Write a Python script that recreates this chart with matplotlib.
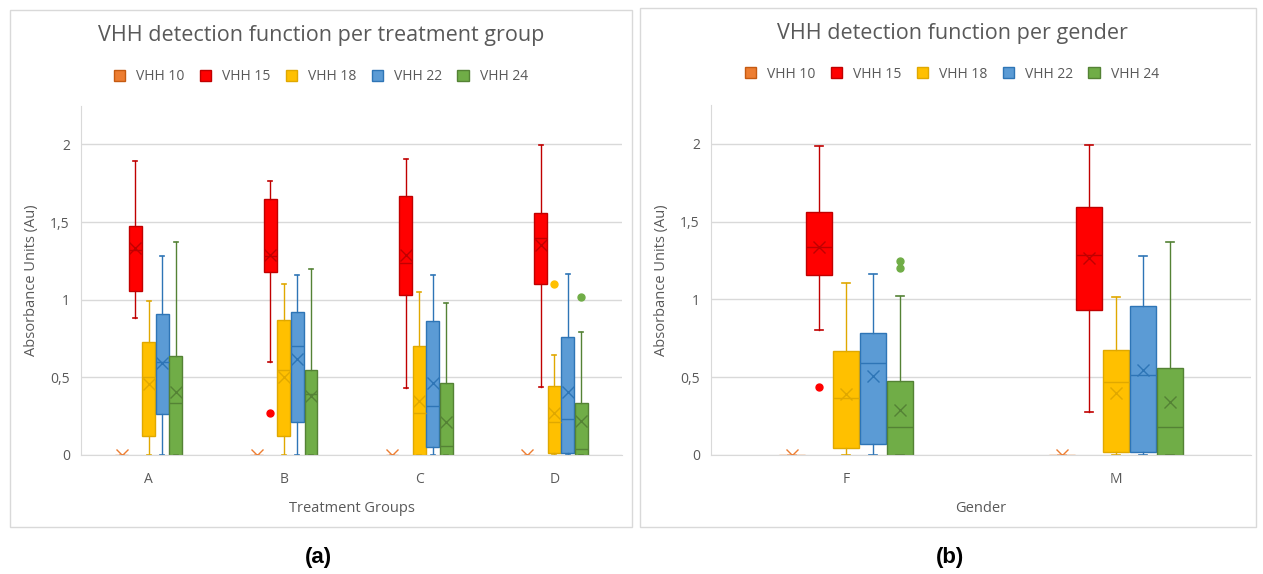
import matplotlib
matplotlib.use("Agg")
import matplotlib.pyplot as plt
from matplotlib.patches import Rectangle, Patch
from matplotlib.ticker import FuncFormatter

plt.rcParams["font.family"] = ["Open Sans", "DejaVu Sans"]

# ---- data ----
series = ["VHH 10", "VHH 15", "VHH 18", "VHH 22", "VHH 24"]
fill_cols = ["#ED7D31", "#FF0000", "#FFC000", "#5B9BD5", "#70AD47"]
edge_cols = ["#F4B183", "#C00000", "#E0A800", "#2E75B6", "#548235"]

groups_a = ["A", "B", "C", "D"]
# per series: lists over groups A..D
a_whislo = [[0, 0, 0, 0], [0.88, 0.60, 0.43, 0.44], [0, 0, 0, 0], [0, 0, 0, 0], [0, 0, 0, 0]]
a_q1 = [[0, 0, 0, 0], [1.055, 1.18, 1.03, 1.10], [0.12, 0.125, 0.0, 0.015],
        [0.265, 0.21, 0.05, 0.01], [0, 0, 0, 0]]
a_med = [[0, 0, 0, 0], [1.32, 1.28, 1.235, 1.40], [0.505, 0.545, 0.27, 0.21],
         [0.60, 0.70, 0.315, 0.23], [0.335, 0.39, 0.055, 0.04]]
a_q3 = [[0, 0, 0, 0], [1.475, 1.65, 1.67, 1.555], [0.725, 0.87, 0.70, 0.445],
        [0.905, 0.92, 0.86, 0.76], [0.64, 0.545, 0.465, 0.335]]
a_whishi = [[0, 0, 0, 0], [1.89, 1.765, 1.905, 1.995], [0.99, 1.10, 1.05, 0.645],
            [1.28, 1.16, 1.16, 1.165], [1.37, 1.20, 0.98, 0.79]]
a_mean = [[0, 0, 0, 0], [1.33, 1.29, 1.29, 1.355], [0.46, 0.505, 0.35, 0.27],
          [0.59, 0.615, 0.465, 0.405], [0.405, 0.38, 0.215, 0.22]]
a_fliers = [[[], [], [], []], [[], [0.27], [], []], [[], [], [], [1.10]],
            [[], [], [], []], [[], [], [], [1.02]]]

groups_b = ["F", "M"]
b_whislo = [[0, 0], [0.805, 0.275], [0, 0], [0, 0], [0, 0]]
b_q1 = [[0, 0], [1.16, 0.935], [0.047, 0.02], [0.068, 0.022], [0, 0]]
b_med = [[0, 0], [1.34, 1.285], [0.365, 0.47], [0.59, 0.515], [0.177, 0.18]]
b_q3 = [[0, 0], [1.56, 1.595], [0.67, 0.675], [0.785, 0.96], [0.475, 0.56]]
b_whishi = [[0, 0], [1.985, 1.99], [1.105, 1.015], [1.165, 1.28], [1.02, 1.37]]
b_mean = [[0, 0], [1.34, 1.265], [0.395, 0.40], [0.505, 0.545], [0.29, 0.34]]
b_fliers = [[[], []], [[0.435], []], [[], []], [[], []], [[1.25, 1.20], []]]

GRID = "#D9D9D9"; TXT = "#595959"
W, H = 1263, 574
fig = plt.figure(figsize=(W / 100, H / 100), dpi=100)


def panel(rect, groups, whislo, q1, med, q3, whishi, mean, fliers,
          title, xlabel, frame, title_y, leg_y, cx, width, capw):
    ax = fig.add_axes([rect[0] / W, 1 - rect[3] / H, (rect[2] - rect[0]) / W, (rect[3] - rect[1]) / H])
    ax.set_axisbelow(True)
    for k in range(len(series)):
        stats = []
        for g in range(len(groups)):
            stats.append(dict(whislo=whislo[k][g], q1=q1[k][g], med=med[k][g], q3=q3[k][g],
                              whishi=whishi[k][g], mean=mean[k][g], fliers=fliers[k][g]))
        pos = [g + 1 + (k - 2) * 0.1 for g in range(len(groups))]
        ec = edge_cols[k]
        ax.bxp(stats, positions=pos, widths=width, patch_artist=True, showmeans=True,
               manage_ticks=False, capwidths=capw,
               boxprops=dict(facecolor=fill_cols[k], edgecolor=ec, linewidth=1),
               whiskerprops=dict(color=ec, linewidth=1),
               capprops=dict(color=ec, linewidth=1.2),
               medianprops=dict(color=ec, linewidth=1),
               meanprops=dict(marker="x", markeredgecolor=ec if k else "#ED7D31",
                              markersize=8, markeredgewidth=1),
               flierprops=dict(marker="o", markerfacecolor=fill_cols[k],
                               markeredgecolor=fill_cols[k], markersize=5))
    ax.set_xlim(0.5, len(groups) + 0.5)
    ax.set_ylim(0, 2.25)
    ax.set_xticks(range(1, len(groups) + 1))
    ax.set_xticklabels(groups)
    ax.set_yticks([0, 0.5, 1, 1.5, 2])
    ax.yaxis.set_major_formatter(FuncFormatter(lambda v, p: ("%g" % v).replace(".", ",")))
    ax.tick_params(length=0, colors=TXT, labelsize=10)
    ax.tick_params(axis="x", pad=12)
    ax.tick_params(axis="y", pad=8)
    ax.grid(axis="y", color=GRID, linewidth=1)
    for s in ["top", "right"]:
        ax.spines[s].set_visible(False)
    for s in ["left", "bottom"]:
        ax.spines[s].set_color(GRID)
    ax.set_ylabel("Absorbance Units (Au)", color=TXT, fontsize=10.5, labelpad=8)
    ax.set_xlabel(xlabel, color=TXT, fontsize=10.5, labelpad=10)

    fx0, fy0, fx1, fy1 = frame
    fig.add_artist(Rectangle((fx0 / W, 1 - fy1 / H), (fx1 - fx0) / W, (fy1 - fy0) / H,
                             transform=fig.transFigure, fill=False, edgecolor=GRID, linewidth=1))
    fig.text(cx / W, 1 - title_y / H, title, ha="center", va="center", color=TXT, fontsize=15.5)
    handles = [Patch(facecolor=fill_cols[k], edgecolor=edge_cols[k] if k else "#C55A11")
               for k in range(len(series))]
    fig.legend(handles, series, loc="center", bbox_to_anchor=(cx / W, 1 - leg_y / H),
               ncol=5, frameon=False, fontsize=10, labelcolor=TXT,
               handlelength=0.8, handleheight=0.8, handletextpad=0.8, columnspacing=1.1)
    return ax


panel((81, 105.5, 622, 455), groups_a, a_whislo, a_q1, a_med, a_q3, a_whishi, a_mean, a_fliers,
      "VHH detection function per treatment group", "Treatment Groups",
      (10, 10, 632, 527), 36, 77, 321, 0.095, 0.03)
panel((711, 105, 1251, 455), groups_b, b_whislo, b_q1, b_med, b_q3, b_whishi, b_mean, b_fliers,
      "VHH detection function per gender", "Gender",
      (640, 8, 1256, 527), 33, 74, 952, 0.093, 0.026)

fig.text(318 / W, 1 - 557 / H, "(a)", ha="center", va="center", fontsize=16,
         fontweight="bold", family="Liberation Sans")
fig.text(950 / W, 1 - 557 / H, "(b)", ha="center", va="center", fontsize=16,
         fontweight="bold", family="Liberation Sans")

fig.savefig("out.png", dpi=100)
